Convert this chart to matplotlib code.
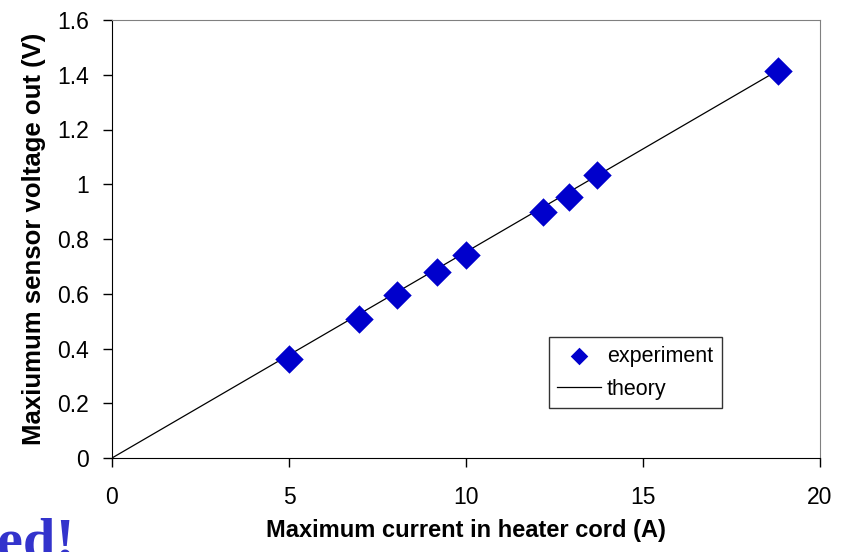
import matplotlib.pyplot as plt

current = [5.0, 6.98, 8.05, 9.17, 10.0, 12.17, 12.92, 13.7, 18.8]
voltage = [0.36, 0.508, 0.597, 0.68, 0.742, 0.897, 0.953, 1.035, 1.415]

# theory line
theory_x = [0, 18.8]
theory_y = [0, 1.415]

plt.rcParams['font.family'] = ['Liberation Sans', 'DejaVu Sans']

fig = plt.figure(figsize=(8.42, 5.52), dpi=100)
ax = fig.add_axes([112 / 842, 94 / 552, 708 / 842, 438 / 552])

ax.plot(theory_x, theory_y, color='black', linewidth=0.9, label='theory', zorder=2)
ax.scatter(current, voltage, marker='D', s=210, color='#0000cc', linewidths=0,
           label='experiment', zorder=3)

ax.set_xlim(0, 20)
ax.set_ylim(0, 1.6)
ax.set_xticks([0, 5, 10, 15, 20])
ax.set_yticks([0, 0.2, 0.4, 0.6, 0.8, 1, 1.2, 1.4, 1.6])
ax.set_yticklabels(['0', '0.2', '0.4', '0.6', '0.8', '1', '1.2', '1.4', '1.6'])
ax.tick_params(direction='out', length=6.5, width=1, labelsize=16.5)
ax.tick_params(axis='x', pad=14)
ax.tick_params(axis='y', pad=10)

ax.spines['top'].set_color('#808080')
ax.spines['right'].set_color('#808080')

ax.set_xlabel('Maximum current in heater cord (A)', fontsize=17, fontweight='bold', labelpad=7)
ax.set_ylabel('Maxiumum sensor voltage out (V)', fontsize=18.5, fontweight='bold', labelpad=8)

handles, labels = ax.get_legend_handles_labels()
leg = ax.legend(handles[::-1], labels[::-1], loc='upper left', bbox_to_anchor=(0.617, 0.276),
                fontsize=15.5, frameon=True, fancybox=False, edgecolor='black',
                handlelength=2.0, handletextpad=0.3, borderpad=0.4, labelspacing=0.55,
                borderaxespad=0, scatterpoints=1)
leg.get_frame().set_linewidth(1)
leg.legend_handles[0].set_sizes([80])

fig.text(75 / 842, -6 / 552, 'ed!', family='Liberation Serif', fontweight='bold',
         fontsize=42, color='#3333cc', ha='right', va='baseline')

fig.savefig('out.png', dpi=100)
